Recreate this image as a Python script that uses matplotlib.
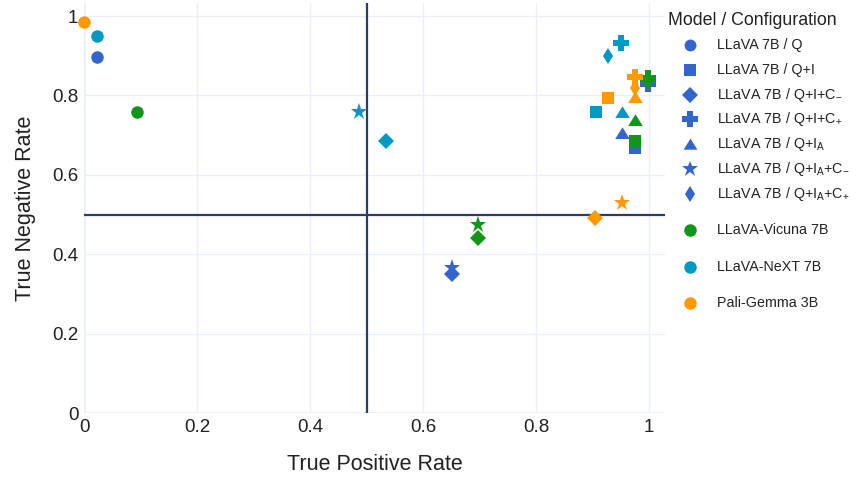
import numpy as np
import matplotlib
matplotlib.use("Agg")
import matplotlib.pyplot as plt

plt.rcParams['font.family'] = ['Liberation Sans', 'DejaVu Sans']
plt.rcParams['mathtext.fontset'] = 'custom'
plt.rcParams['mathtext.rm'] = 'Liberation Sans'
plt.rcParams['mathtext.it'] = 'Liberation Sans'

# configs in order: Q, Q+I, Q+I+C-, Q+I+C+, Q+I_A, Q+I_A+C-, Q+I_A+C+
configs = ["Q", "Q+I", "Q+I+C$_{-}$", "Q+I+C$_{+}$", "Q+I$_\\mathrm{A}$",
           "Q+I$_\\mathrm{A}$+C$_{-}$", "Q+I$_\\mathrm{A}$+C$_{+}$"]
tri = [(-1, -0.75), (1, -0.75), (0, 0.85)]  # wider triangle like plotly
markers = ['o', 's', 'D', 'P', tri, '*', 'd']
msizes = [9, 9.3, 8.2, 11.5, 10.5, 12.5, 8.2]

models = ["LLaVA 7B", "LLaVA-Vicuna 7B", "LLaVA-NeXT 7B", "Pali-Gemma 3B"]
colors = ["#3366CC", "#109618", "#0099C6", "#FF9900"]

tpr_llava = [0.023, 0.975, 0.651, 0.998, 0.952, 0.651, 0.998]
tnr_llava = [0.897, 0.668, 0.350, 0.829, 0.705, 0.366, 0.829]
tpr_vicuna = [0.094, 0.975, 0.697, 0.998, 0.975, 0.697, 0.998]
tnr_vicuna = [0.758, 0.685, 0.441, 0.844, 0.738, 0.474, 0.833]
tpr_next = [0.023, 0.906, 0.534, 0.950, 0.952, 0.487, 0.927]
tnr_next = [0.950, 0.758, 0.685, 0.932, 0.758, 0.758, 0.899]
tpr_pali = [0.0, 0.927, 0.904, 0.975, 0.975, 0.952, 0.975]
tnr_pali = [0.985, 0.793, 0.491, 0.846, 0.796, 0.529, 0.819]

tpr = [tpr_llava, tpr_vicuna, tpr_next, tpr_pali]
tnr = [tnr_llava, tnr_vicuna, tnr_next, tnr_pali]

fig = plt.figure(figsize=(8.58, 4.79), dpi=100)
ax = fig.add_axes([84/858, 66/479, 581/858, 410/479])
ax.set_xlim(0, 1.028)
ax.set_ylim(0, 1.033)
for s in ax.spines.values():
    s.set_visible(False)
ticks = [0, 0.2, 0.4, 0.6, 0.8, 1]
ticklab = ["0", "0.2", "0.4", "0.6", "0.8", "1"]
ax.set_xticks(ticks)
ax.set_xticklabels(ticklab)
ax.set_yticks(ticks)
ax.set_yticklabels(ticklab)
ax.tick_params(length=0, labelsize=13.5, colors='#222222', pad=4)
ax.grid(True, color='#ebf0f8', lw=1)
ax.set_axisbelow(True)
ax.axhline(0, color='#ebf0f8', lw=2, zorder=0.5)
ax.axvline(0, color='#ebf0f8', lw=2, zorder=0.5)
ax.axhline(0.5, color='#2a3f5f', lw=1.6, zorder=1)
ax.axvline(0.5, color='#2a3f5f', lw=1.6, zorder=1)
ax.set_xlabel("True Positive Rate", fontsize=15.5, color='#222222', labelpad=13)
ax.set_ylabel("True Negative Rate", fontsize=15.5, color='#222222', labelpad=12)

for mi in range(len(models)):
    for ci in range(len(configs)):
        ax.plot(tpr[mi][ci], tnr[mi][ci], marker=markers[ci], ms=msizes[ci],
                color=colors[mi], mew=0, ls='none', clip_on=False, zorder=3)

# legend
lg = fig.add_axes([0, 0, 1, 1])
lg.set_xlim(0, 858)
lg.set_ylim(479, 0)
lg.axis('off')
lg.text(668, 20, "Model / Configuration", fontsize=12.8, va='center', ha='left', color='#222222')
ys = [45, 70, 95, 119, 144, 169, 194]
for ci in range(len(configs)):
    lg.plot(690, ys[ci], marker=markers[ci], ms=msizes[ci] * 0.95, color=colors[0], mew=0)
    lg.text(717, ys[ci], "LLaVA 7B / " + configs[ci], fontsize=10.3, va='center', ha='left', color='#222222')
ys2 = [230, 267, 303]
for mi in range(1, len(models)):
    lg.plot(690, ys2[mi - 1], marker='o', ms=9, color=colors[mi], mew=0)
    lg.text(717, ys2[mi - 1], models[mi], fontsize=10.3, va='center', ha='left', color='#222222')

fig.savefig("out.png", dpi=100)
